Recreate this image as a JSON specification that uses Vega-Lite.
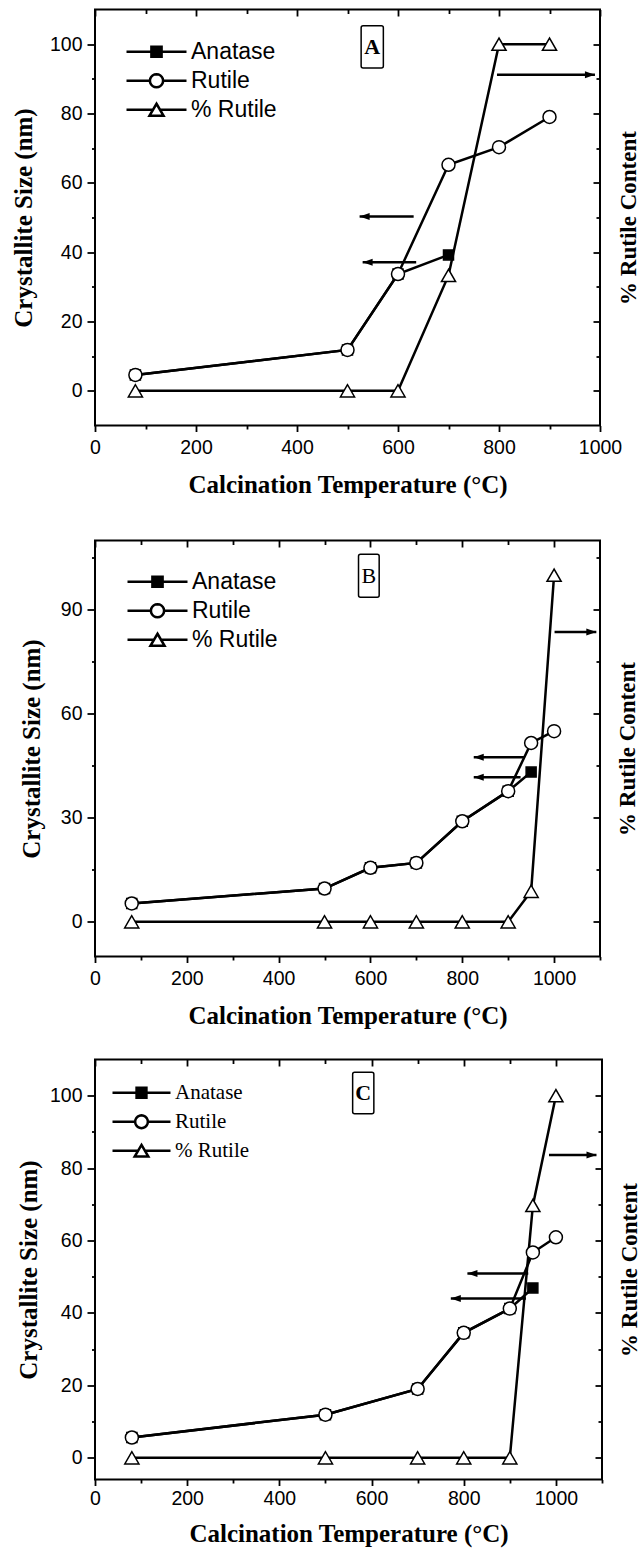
{
  "$schema": "https://vega.github.io/schema/vega-lite/v6.json",
  "background": "white",
  "padding": {"left": 10, "top": 7.5, "right": 0, "bottom": 0},
  "datasets": {
    "pts": [
      {"panel": "A", "series": "Anatase", "T": 80, "v": 4.6},
      {"panel": "A", "series": "Anatase", "T": 500, "v": 11.8},
      {"panel": "A", "series": "Anatase", "T": 600, "v": 33.7},
      {"panel": "A", "series": "Anatase", "T": 700, "v": 39.2},
      {"panel": "A", "series": "Rutile", "T": 80, "v": 4.6},
      {"panel": "A", "series": "Rutile", "T": 500, "v": 11.8},
      {"panel": "A", "series": "Rutile", "T": 600, "v": 33.7},
      {"panel": "A", "series": "Rutile", "T": 700, "v": 65.2},
      {"panel": "A", "series": "Rutile", "T": 800, "v": 70.3},
      {"panel": "A", "series": "Rutile", "T": 900, "v": 79.0},
      {"panel": "A", "series": "% Rutile", "T": 80, "v": 0},
      {"panel": "A", "series": "% Rutile", "T": 500, "v": 0},
      {"panel": "A", "series": "% Rutile", "T": 600, "v": 0},
      {"panel": "A", "series": "% Rutile", "T": 700, "v": 33.3},
      {"panel": "A", "series": "% Rutile", "T": 800, "v": 100},
      {"panel": "A", "series": "% Rutile", "T": 900, "v": 100},
      {"panel": "B", "series": "Anatase", "T": 80, "v": 5.3},
      {"panel": "B", "series": "Anatase", "T": 500, "v": 9.6},
      {"panel": "B", "series": "Anatase", "T": 600, "v": 15.6},
      {"panel": "B", "series": "Anatase", "T": 700, "v": 17.0},
      {"panel": "B", "series": "Anatase", "T": 800, "v": 29.0},
      {"panel": "B", "series": "Anatase", "T": 900, "v": 37.7},
      {"panel": "B", "series": "Anatase", "T": 950, "v": 43.2},
      {"panel": "B", "series": "Rutile", "T": 80, "v": 5.3},
      {"panel": "B", "series": "Rutile", "T": 500, "v": 9.6},
      {"panel": "B", "series": "Rutile", "T": 600, "v": 15.6},
      {"panel": "B", "series": "Rutile", "T": 700, "v": 17.0},
      {"panel": "B", "series": "Rutile", "T": 800, "v": 29.0},
      {"panel": "B", "series": "Rutile", "T": 900, "v": 37.7},
      {"panel": "B", "series": "Rutile", "T": 950, "v": 51.6},
      {"panel": "B", "series": "Rutile", "T": 1000, "v": 55.0},
      {"panel": "B", "series": "% Rutile", "T": 80, "v": 0},
      {"panel": "B", "series": "% Rutile", "T": 500, "v": 0},
      {"panel": "B", "series": "% Rutile", "T": 600, "v": 0},
      {"panel": "B", "series": "% Rutile", "T": 700, "v": 0},
      {"panel": "B", "series": "% Rutile", "T": 800, "v": 0},
      {"panel": "B", "series": "% Rutile", "T": 900, "v": 0},
      {"panel": "B", "series": "% Rutile", "T": 950, "v": 8.8},
      {"panel": "B", "series": "% Rutile", "T": 1000, "v": 100},
      {"panel": "C", "series": "Anatase", "T": 80, "v": 5.6},
      {"panel": "C", "series": "Anatase", "T": 500, "v": 11.9},
      {"panel": "C", "series": "Anatase", "T": 700, "v": 19.0},
      {"panel": "C", "series": "Anatase", "T": 800, "v": 34.5},
      {"panel": "C", "series": "Anatase", "T": 900, "v": 41.2},
      {"panel": "C", "series": "Anatase", "T": 950, "v": 46.9},
      {"panel": "C", "series": "Rutile", "T": 80, "v": 5.6},
      {"panel": "C", "series": "Rutile", "T": 500, "v": 11.9},
      {"panel": "C", "series": "Rutile", "T": 700, "v": 19.0},
      {"panel": "C", "series": "Rutile", "T": 800, "v": 34.5},
      {"panel": "C", "series": "Rutile", "T": 900, "v": 41.2},
      {"panel": "C", "series": "Rutile", "T": 950, "v": 56.7},
      {"panel": "C", "series": "Rutile", "T": 1000, "v": 60.9},
      {"panel": "C", "series": "% Rutile", "T": 80, "v": 0},
      {"panel": "C", "series": "% Rutile", "T": 500, "v": 0},
      {"panel": "C", "series": "% Rutile", "T": 700, "v": 0},
      {"panel": "C", "series": "% Rutile", "T": 800, "v": 0},
      {"panel": "C", "series": "% Rutile", "T": 900, "v": 0},
      {"panel": "C", "series": "% Rutile", "T": 950, "v": 69.7},
      {"panel": "C", "series": "% Rutile", "T": 1000, "v": 100}
    ],
    "arrows": [
      {"panel": "A", "tail": 631, "tip": 524, "y": 50.3, "dir": "left"},
      {"panel": "A", "tail": 636, "tip": 530, "y": 37.1, "dir": "left"},
      {"panel": "A", "tail": 796, "tip": 990, "y": 91.2, "dir": "right"},
      {"panel": "B", "tail": 936, "tip": 825, "y": 47.5, "dir": "left"},
      {"panel": "B", "tail": 927, "tip": 825, "y": 41.7, "dir": "left"},
      {"panel": "B", "tail": 1001, "tip": 1092, "y": 83.6, "dir": "right"},
      {"panel": "C", "tail": 940, "tip": 808, "y": 50.9, "dir": "left"},
      {"panel": "C", "tail": 935, "tip": 772, "y": 44.0, "dir": "left"},
      {"panel": "C", "tail": 985, "tip": 1088, "y": 83.6, "dir": "right"}
    ],
    "boxes": [
      {"panel": "A", "label": "A", "x1": 527, "x2": 571, "y1": 93.1, "y2": 105.3, "cx": 549, "cy": 99.2},
      {"panel": "B", "label": "B", "x1": 574, "x2": 619, "y1": 93.6, "y2": 106, "cx": 596.5, "cy": 99.8},
      {"panel": "C", "label": "C", "x1": 559, "x2": 605, "y1": 95, "y2": 106.5, "cx": 582, "cy": 100.7}
    ],
    "none": []
  },
  "spacing": 40,
  "resolve": {"scale": {"x": "independent", "y": "independent", "shape": "independent", "fill": "independent", "stroke": "independent"}, "legend": {"shape": "independent", "fill": "independent", "stroke": "independent"}},
  "vconcat": [
    {
      "width": 505, "height": 416,
      "resolve": {"axis": {"x": "independent", "y": "independent"}},
      "layer": [
        {
          "data": {"name": "pts"},
          "transform": [{"filter": "datum.panel === 'A'"}],
          "mark": {"type": "line", "color": "black", "strokeWidth": 2.5},
          "encoding": {
            "x": {"field": "T", "type": "quantitative", "scale": {"domain": [0, 1000], "nice": false, "zero": false}, "axis": {"orient": "bottom", "values": [0, 200, 400, 600, 800, 1000], "format": "d", "tickSize": 6, "labelPadding": 7, "title": "Calcination Temperature (°C)", "titlePadding": 15}},
            "y": {"field": "v", "type": "quantitative", "scale": {"domain": [-10, 110], "nice": false, "zero": false}, "axis": {"orient": "left", "values": [0, 20, 40, 60, 80, 100], "tickSize": 8, "labelPadding": 5, "title": "Crystallite Size (nm)", "minExtent": 45, "maxExtent": 45, "titlePadding": 14}},
            "detail": {"field": "series", "type": "nominal"}
          }
        },
        {
          "data": {"name": "pts"},
          "transform": [{"filter": "datum.panel === 'A'"}],
          "mark": {"type": "point", "filled": true, "stroke": "black", "strokeWidth": 1.5, "opacity": 1},
          "encoding": {
            "x": {"field": "T", "type": "quantitative", "scale": {"domain": [0, 1000], "nice": false, "zero": false}, "axis": {"orient": "bottom", "values": [100, 300, 500, 700, 900], "tickSize": 3.5, "labels": false, "title": null}},
            "y": {"field": "v", "type": "quantitative", "scale": {"domain": [-10, 110], "nice": false, "zero": false}, "axis": {"orient": "left", "values": [10, 30, 50, 70, 90], "tickSize": 3.5, "labels": false, "title": null}},
            "shape": {"condition": [{"test": "datum.series === 'Anatase'", "value": "square"}, {"test": "datum.series === 'Rutile'", "value": "circle"}], "value": "triangle-up"},
            "fill": {"condition": {"test": "datum.series === 'Anatase'", "value": "black"}, "value": "white"},
            "size": {"condition": [{"test": "datum.series === 'Anatase'", "value": 100}, {"test": "datum.series === 'Rutile'", "value": 169}], "value": 200}
          }
        },
        {
          "data": {"name": "none"},
          "mark": {"type": "point", "filled": true, "strokeWidth": 2.5, "size": 3600, "opacity": 1},
          "encoding": {
            "x": {"field": "T", "type": "quantitative", "scale": {"domain": [0, 1000], "nice": false, "zero": false}, "axis": null},
            "y": {"field": "v", "type": "quantitative", "scale": {"domain": [-10, 110], "nice": false, "zero": false}, "axis": null},
            "shape": {"field": "series", "type": "nominal",
              "scale": {"domain": ["Anatase", "Rutile", "% Rutile"], "range": ["M-1,0L1,0M-0.17,-0.17L0.17,-0.17L0.17,0.17L-0.17,0.17Z", "M-1,0L-0.22,0M0.22,0L1,0M0.22,0L0.2092,0.068L0.178,0.1293L0.1293,0.178L0.068,0.2092L0,0.22L-0.068,0.2092L-0.1293,0.178L-0.178,0.1293L-0.2092,0.068L-0.22,0L-0.2092,-0.068L-0.178,-0.1293L-0.1293,-0.178L-0.068,-0.2092L0,-0.22L0.068,-0.2092L0.1293,-0.178L0.178,-0.1293L0.2092,-0.068Z", "M-1,0L-0.12,0M0.12,0L1,0M0,-0.2L0.235,0.2L-0.235,0.2Z"]},
              "legend": {"orient": "none", "legendX": 30, "legendY": 28, "title": null, "symbolSize": 3600, "symbolStrokeWidth": 2.5, "symbolStrokeColor": "black", "symbolOpacity": 1, "labelFont": "Liberation Sans", "labelFontSize": 23, "labelColor": "black", "labelOffset": 3, "clipHeight": 28.5, "rowPadding": 0, "padding": 0}},
            "fill": {"field": "series", "type": "nominal", "scale": {"domain": ["Anatase", "Rutile", "% Rutile"], "range": ["black", "white", "white"]},
              "legend": {"orient": "none", "legendX": 30, "legendY": 28, "title": null, "symbolSize": 3600, "symbolStrokeWidth": 2.5, "symbolStrokeColor": "black", "symbolOpacity": 1, "labelFont": "Liberation Sans", "labelFontSize": 23, "labelColor": "black", "labelOffset": 3, "clipHeight": 28.5, "rowPadding": 0, "padding": 0}},
            "stroke": {"field": "series", "type": "nominal", "scale": {"domain": ["Anatase", "Rutile", "% Rutile"], "range": ["black", "black", "black"]},
              "legend": {"orient": "none", "legendX": 30, "legendY": 28, "title": null, "symbolSize": 3600, "symbolStrokeWidth": 2.5, "symbolStrokeColor": "black", "symbolOpacity": 1, "labelFont": "Liberation Sans", "labelFontSize": 23, "labelColor": "black", "labelOffset": 3, "clipHeight": 28.5, "rowPadding": 0, "padding": 0}}
          }
        },
        {
          "data": {"name": "arrows"},
          "transform": [{"filter": "datum.panel === 'A'"}],
          "mark": {"type": "rule", "color": "black", "strokeWidth": 2.5},
          "encoding": {
            "x": {"field": "tail", "type": "quantitative", "scale": {"domain": [0, 1000], "nice": false, "zero": false}, "axis": {"orient": "top", "values": [0, 200, 400, 600, 800, 1000], "tickSize": -6.5, "labels": false, "title": null}},
            "x2": {"field": "tip"},
            "y": {"field": "y", "type": "quantitative", "scale": {"domain": [-10, 110], "nice": false, "zero": false}, "axis": {"orient": "right", "values": [0, 20, 40, 60, 80, 100], "tickSize": -7, "labels": false, "title": "% Rutile Content", "titleAngle": 270, "titleBaseline": "top", "titleFontSize": 23, "minExtent": 0, "maxExtent": 0, "titlePadding": 17}}
          }
        },
        {
          "data": {"name": "arrows"},
          "transform": [{"filter": "datum.panel === 'A' && datum.dir === 'left'"}],
          "mark": {"type": "point", "shape": "M0,0L4,-1.4L4,1.4Z", "filled": true, "color": "black", "size": 25, "opacity": 1},
          "encoding": {
            "x": {"field": "tip", "type": "quantitative", "scale": {"domain": [0, 1000], "nice": false, "zero": false}, "axis": {"orient": "top", "values": [100, 300, 500, 700, 900], "tickSize": -4, "labels": false, "title": null}},
            "y": {"field": "y", "type": "quantitative", "scale": {"domain": [-10, 110], "nice": false, "zero": false}, "axis": {"orient": "right", "values": [10, 30, 50, 70, 90], "tickSize": -4, "labels": false, "title": null}}
          }
        },
        {
          "data": {"name": "arrows"},
          "transform": [{"filter": "datum.panel === 'A' && datum.dir === 'right'"}],
          "mark": {"type": "point", "shape": "M0,0L-4,-1.4L-4,1.4Z", "filled": true, "color": "black", "size": 25, "opacity": 1},
          "encoding": {
            "x": {"field": "tip", "type": "quantitative", "scale": {"domain": [0, 1000], "nice": false, "zero": false}, "axis": null},
            "y": {"field": "y", "type": "quantitative", "scale": {"domain": [-10, 110], "nice": false, "zero": false}, "axis": null}
          }
        },
        {
          "data": {"name": "boxes"},
          "transform": [{"filter": "datum.panel === 'A'"}],
          "mark": {"type": "rect", "fill": "white", "stroke": "black", "strokeWidth": 1.5, "cornerRadius": 2},
          "encoding": {
            "x": {"field": "x1", "type": "quantitative", "scale": {"domain": [0, 1000], "nice": false, "zero": false}, "axis": null},
            "x2": {"field": "x2"},
            "y": {"field": "y1", "type": "quantitative", "scale": {"domain": [-10, 110], "nice": false, "zero": false}, "axis": null},
            "y2": {"field": "y2"}
          }
        },
        {
          "data": {"name": "boxes"},
          "transform": [{"filter": "datum.panel === 'A'"}],
          "mark": {"type": "text", "font": "Liberation Serif", "fontWeight": "bold", "fontSize": 22, "align": "center", "baseline": "middle", "color": "black"},
          "encoding": {
            "x": {"field": "cx", "type": "quantitative", "scale": {"domain": [0, 1000], "nice": false, "zero": false}, "axis": null},
            "y": {"field": "cy", "type": "quantitative", "scale": {"domain": [-10, 110], "nice": false, "zero": false}, "axis": null},
            "text": {"field": "label"}
          }
        }
      ]
    },
    {
      "spacing": 28,
      "resolve": {"scale": {"x": "independent", "y": "independent", "shape": "independent", "fill": "independent", "stroke": "independent"}, "legend": {"shape": "independent", "fill": "independent", "stroke": "independent"}},
      "vconcat": [
        {
          "width": 505, "height": 416,
          "resolve": {"axis": {"x": "independent", "y": "independent"}},
          "layer": [
            {
              "data": {"name": "pts"},
              "transform": [{"filter": "datum.panel === 'B'"}],
              "mark": {"type": "line", "color": "black", "strokeWidth": 2.5},
              "encoding": {
                "x": {"field": "T", "type": "quantitative", "scale": {"domain": [0, 1100], "nice": false, "zero": false}, "axis": {"orient": "bottom", "values": [0, 200, 400, 600, 800, 1000], "format": "d", "tickSize": 6, "labelPadding": 7, "title": "Calcination Temperature (°C)", "titlePadding": 15}},
                "y": {"field": "v", "type": "quantitative", "scale": {"domain": [-10, 110], "nice": false, "zero": false}, "axis": {"orient": "left", "values": [0, 30, 60, 90], "tickSize": 8, "labelPadding": 5, "title": "Crystallite Size (nm)", "minExtent": 45, "maxExtent": 45, "titlePadding": 6}},
                "detail": {"field": "series", "type": "nominal"}
              }
            },
            {
              "data": {"name": "pts"},
              "transform": [{"filter": "datum.panel === 'B'"}],
              "mark": {"type": "point", "filled": true, "stroke": "black", "strokeWidth": 1.5, "opacity": 1},
              "encoding": {
                "x": {"field": "T", "type": "quantitative", "scale": {"domain": [0, 1100], "nice": false, "zero": false}, "axis": {"orient": "bottom", "values": [100, 300, 500, 700, 900, 1100], "tickSize": 3.5, "labels": false, "title": null}},
                "y": {"field": "v", "type": "quantitative", "scale": {"domain": [-10, 110], "nice": false, "zero": false}, "axis": {"orient": "left", "values": [15, 45, 75, 105], "tickSize": 3.5, "labels": false, "title": null}},
                "shape": {"condition": [{"test": "datum.series === 'Anatase'", "value": "square"}, {"test": "datum.series === 'Rutile'", "value": "circle"}], "value": "triangle-up"},
                "fill": {"condition": {"test": "datum.series === 'Anatase'", "value": "black"}, "value": "white"},
                "size": {"condition": [{"test": "datum.series === 'Anatase'", "value": 100}, {"test": "datum.series === 'Rutile'", "value": 169}], "value": 200}
              }
            },
            {
              "data": {"name": "none"},
              "mark": {"type": "point", "filled": true, "strokeWidth": 2.5, "size": 3600, "opacity": 1},
              "encoding": {
                "x": {"field": "T", "type": "quantitative", "scale": {"domain": [0, 1100], "nice": false, "zero": false}, "axis": null},
                "y": {"field": "v", "type": "quantitative", "scale": {"domain": [-10, 110], "nice": false, "zero": false}, "axis": null},
                "shape": {"field": "series", "type": "nominal",
                  "scale": {"domain": ["Anatase", "Rutile", "% Rutile"], "range": ["M-1,0L1,0M-0.17,-0.17L0.17,-0.17L0.17,0.17L-0.17,0.17Z", "M-1,0L-0.22,0M0.22,0L1,0M0.22,0L0.2092,0.068L0.178,0.1293L0.1293,0.178L0.068,0.2092L0,0.22L-0.068,0.2092L-0.1293,0.178L-0.178,0.1293L-0.2092,0.068L-0.22,0L-0.2092,-0.068L-0.178,-0.1293L-0.1293,-0.178L-0.068,-0.2092L0,-0.22L0.068,-0.2092L0.1293,-0.178L0.178,-0.1293L0.2092,-0.068Z", "M-1,0L-0.12,0M0.12,0L1,0M0,-0.2L0.235,0.2L-0.235,0.2Z"]},
                  "legend": {"orient": "none", "legendX": 31, "legendY": 27, "title": null, "symbolSize": 3600, "symbolStrokeWidth": 2.5, "symbolStrokeColor": "black", "symbolOpacity": 1, "labelFont": "Liberation Sans", "labelFontSize": 23, "labelColor": "black", "labelOffset": 3, "clipHeight": 28.5, "rowPadding": 0, "padding": 0}},
                "fill": {"field": "series", "type": "nominal", "scale": {"domain": ["Anatase", "Rutile", "% Rutile"], "range": ["black", "white", "white"]},
                  "legend": {"orient": "none", "legendX": 31, "legendY": 27, "title": null, "symbolSize": 3600, "symbolStrokeWidth": 2.5, "symbolStrokeColor": "black", "symbolOpacity": 1, "labelFont": "Liberation Sans", "labelFontSize": 23, "labelColor": "black", "labelOffset": 3, "clipHeight": 28.5, "rowPadding": 0, "padding": 0}},
                "stroke": {"field": "series", "type": "nominal", "scale": {"domain": ["Anatase", "Rutile", "% Rutile"], "range": ["black", "black", "black"]},
                  "legend": {"orient": "none", "legendX": 31, "legendY": 27, "title": null, "symbolSize": 3600, "symbolStrokeWidth": 2.5, "symbolStrokeColor": "black", "symbolOpacity": 1, "labelFont": "Liberation Sans", "labelFontSize": 23, "labelColor": "black", "labelOffset": 3, "clipHeight": 28.5, "rowPadding": 0, "padding": 0}}
              }
            },
            {
              "data": {"name": "arrows"},
              "transform": [{"filter": "datum.panel === 'B'"}],
              "mark": {"type": "rule", "color": "black", "strokeWidth": 2.5},
              "encoding": {
                "x": {"field": "tail", "type": "quantitative", "scale": {"domain": [0, 1100], "nice": false, "zero": false}, "axis": {"orient": "top", "values": [0, 200, 400, 600, 800, 1000], "tickSize": -6.5, "labels": false, "title": null}},
                "x2": {"field": "tip"},
                "y": {"field": "y", "type": "quantitative", "scale": {"domain": [-10, 110], "nice": false, "zero": false}, "axis": {"orient": "right", "values": [0, 30, 60, 90], "tickSize": -7, "labels": false, "title": "% Rutile Content", "titleAngle": 270, "titleBaseline": "top", "titleFontSize": 23, "minExtent": 0, "maxExtent": 0, "titlePadding": 16}}
              }
            },
            {
              "data": {"name": "arrows"},
              "transform": [{"filter": "datum.panel === 'B' && datum.dir === 'left'"}],
              "mark": {"type": "point", "shape": "M0,0L4,-1.4L4,1.4Z", "filled": true, "color": "black", "size": 25, "opacity": 1},
              "encoding": {
                "x": {"field": "tip", "type": "quantitative", "scale": {"domain": [0, 1100], "nice": false, "zero": false}, "axis": {"orient": "top", "values": [100, 300, 500, 700, 900], "tickSize": -4, "labels": false, "title": null}},
                "y": {"field": "y", "type": "quantitative", "scale": {"domain": [-10, 110], "nice": false, "zero": false}, "axis": {"orient": "right", "values": [15, 45, 75, 105], "tickSize": -4, "labels": false, "title": null}}
              }
            },
            {
              "data": {"name": "arrows"},
              "transform": [{"filter": "datum.panel === 'B' && datum.dir === 'right'"}],
              "mark": {"type": "point", "shape": "M0,0L-4,-1.4L-4,1.4Z", "filled": true, "color": "black", "size": 25, "opacity": 1},
              "encoding": {
                "x": {"field": "tip", "type": "quantitative", "scale": {"domain": [0, 1100], "nice": false, "zero": false}, "axis": null},
                "y": {"field": "y", "type": "quantitative", "scale": {"domain": [-10, 110], "nice": false, "zero": false}, "axis": null}
              }
            },
            {
              "data": {"name": "boxes"},
              "transform": [{"filter": "datum.panel === 'B'"}],
              "mark": {"type": "rect", "fill": "white", "stroke": "black", "strokeWidth": 1.5, "cornerRadius": 2},
              "encoding": {
                "x": {"field": "x1", "type": "quantitative", "scale": {"domain": [0, 1100], "nice": false, "zero": false}, "axis": null},
                "x2": {"field": "x2"},
                "y": {"field": "y1", "type": "quantitative", "scale": {"domain": [-10, 110], "nice": false, "zero": false}, "axis": null},
                "y2": {"field": "y2"}
              }
            },
            {
              "data": {"name": "boxes"},
              "transform": [{"filter": "datum.panel === 'B'"}],
              "mark": {"type": "text", "font": "Liberation Serif", "fontWeight": "normal", "fontSize": 22, "align": "center", "baseline": "middle", "color": "black"},
              "encoding": {
                "x": {"field": "cx", "type": "quantitative", "scale": {"domain": [0, 1100], "nice": false, "zero": false}, "axis": null},
                "y": {"field": "cy", "type": "quantitative", "scale": {"domain": [-10, 110], "nice": false, "zero": false}, "axis": null},
                "text": {"field": "label"}
              }
            }
          ]
        },
        {
          "width": 507, "height": 420,
          "resolve": {"axis": {"x": "independent", "y": "independent"}},
          "layer": [
            {
              "data": {"name": "pts"},
              "transform": [{"filter": "datum.panel === 'C'"}],
              "mark": {"type": "line", "color": "black", "strokeWidth": 2.5},
              "encoding": {
                "x": {"field": "T", "type": "quantitative", "scale": {"domain": [0, 1100], "nice": false, "zero": false}, "axis": {"orient": "bottom", "values": [0, 200, 400, 600, 800, 1000], "format": "d", "tickSize": 6, "labelPadding": 4, "title": "Calcination Temperature (°C)", "titlePadding": 13}},
                "y": {"field": "v", "type": "quantitative", "scale": {"domain": [-6, 110], "nice": false, "zero": false}, "axis": {"orient": "left", "values": [0, 20, 40, 60, 80, 100], "tickSize": 8, "labelPadding": 5, "title": "Crystallite Size (nm)", "minExtent": 45, "maxExtent": 45, "titlePadding": 9}},
                "detail": {"field": "series", "type": "nominal"}
              }
            },
            {
              "data": {"name": "pts"},
              "transform": [{"filter": "datum.panel === 'C'"}],
              "mark": {"type": "point", "filled": true, "stroke": "black", "strokeWidth": 1.5, "opacity": 1},
              "encoding": {
                "x": {"field": "T", "type": "quantitative", "scale": {"domain": [0, 1100], "nice": false, "zero": false}, "axis": {"orient": "bottom", "values": [100, 300, 500, 700, 900, 1100], "tickSize": 3.5, "labels": false, "title": null}},
                "y": {"field": "v", "type": "quantitative", "scale": {"domain": [-6, 110], "nice": false, "zero": false}, "axis": {"orient": "left", "values": [10, 30, 50, 70, 90], "tickSize": 3.5, "labels": false, "title": null}},
                "shape": {"condition": [{"test": "datum.series === 'Anatase'", "value": "square"}, {"test": "datum.series === 'Rutile'", "value": "circle"}], "value": "triangle-up"},
                "fill": {"condition": {"test": "datum.series === 'Anatase'", "value": "black"}, "value": "white"},
                "size": {"condition": [{"test": "datum.series === 'Anatase'", "value": 100}, {"test": "datum.series === 'Rutile'", "value": 169}], "value": 200}
              }
            },
            {
              "data": {"name": "none"},
              "mark": {"type": "point", "filled": true, "strokeWidth": 2.5, "size": 3364, "opacity": 1},
              "encoding": {
                "x": {"field": "T", "type": "quantitative", "scale": {"domain": [0, 1100], "nice": false, "zero": false}, "axis": null},
                "y": {"field": "v", "type": "quantitative", "scale": {"domain": [-6, 110], "nice": false, "zero": false}, "axis": null},
                "shape": {"field": "series", "type": "nominal",
                  "scale": {"domain": ["Anatase", "Rutile", "% Rutile"], "range": ["M-1,0L1,0M-0.17,-0.17L0.17,-0.17L0.17,0.17L-0.17,0.17Z", "M-1,0L-0.22,0M0.22,0L1,0M0.22,0L0.2092,0.068L0.178,0.1293L0.1293,0.178L0.068,0.2092L0,0.22L-0.068,0.2092L-0.1293,0.178L-0.178,0.1293L-0.2092,0.068L-0.22,0L-0.2092,-0.068L-0.178,-0.1293L-0.1293,-0.178L-0.068,-0.2092L0,-0.22L0.068,-0.2092L0.1293,-0.178L0.178,-0.1293L0.2092,-0.068Z", "M-1,0L-0.12,0M0.12,0L1,0M0,-0.2L0.235,0.2L-0.235,0.2Z"]},
                  "legend": {"orient": "none", "legendX": 16, "legendY": 19, "title": null, "symbolSize": 3364, "symbolStrokeWidth": 2.5, "symbolStrokeColor": "black", "symbolOpacity": 1, "labelFont": "Liberation Serif", "labelFontSize": 21, "labelColor": "black", "labelOffset": 3, "clipHeight": 28.5, "rowPadding": 0, "padding": 0}},
                "fill": {"field": "series", "type": "nominal", "scale": {"domain": ["Anatase", "Rutile", "% Rutile"], "range": ["black", "white", "white"]},
                  "legend": {"orient": "none", "legendX": 16, "legendY": 19, "title": null, "symbolSize": 3364, "symbolStrokeWidth": 2.5, "symbolStrokeColor": "black", "symbolOpacity": 1, "labelFont": "Liberation Serif", "labelFontSize": 21, "labelColor": "black", "labelOffset": 3, "clipHeight": 28.5, "rowPadding": 0, "padding": 0}},
                "stroke": {"field": "series", "type": "nominal", "scale": {"domain": ["Anatase", "Rutile", "% Rutile"], "range": ["black", "black", "black"]},
                  "legend": {"orient": "none", "legendX": 16, "legendY": 19, "title": null, "symbolSize": 3364, "symbolStrokeWidth": 2.5, "symbolStrokeColor": "black", "symbolOpacity": 1, "labelFont": "Liberation Serif", "labelFontSize": 21, "labelColor": "black", "labelOffset": 3, "clipHeight": 28.5, "rowPadding": 0, "padding": 0}}
              }
            },
            {
              "data": {"name": "arrows"},
              "transform": [{"filter": "datum.panel === 'C'"}],
              "mark": {"type": "rule", "color": "black", "strokeWidth": 2.5},
              "encoding": {
                "x": {"field": "tail", "type": "quantitative", "scale": {"domain": [0, 1100], "nice": false, "zero": false}, "axis": {"orient": "top", "values": [0, 200, 400, 600, 800, 1000], "tickSize": -6.5, "labels": false, "title": null}},
                "x2": {"field": "tip"},
                "y": {"field": "y", "type": "quantitative", "scale": {"domain": [-6, 110], "nice": false, "zero": false}, "axis": {"orient": "right", "values": [0, 20, 40, 60, 80, 100], "tickSize": -7, "labels": false, "title": "% Rutile Content", "titleAngle": 270, "titleBaseline": "top", "titleFontSize": 23, "minExtent": 0, "maxExtent": 0, "titlePadding": 16}}
              }
            },
            {
              "data": {"name": "arrows"},
              "transform": [{"filter": "datum.panel === 'C' && datum.dir === 'left'"}],
              "mark": {"type": "point", "shape": "M0,0L4,-1.4L4,1.4Z", "filled": true, "color": "black", "size": 25, "opacity": 1},
              "encoding": {
                "x": {"field": "tip", "type": "quantitative", "scale": {"domain": [0, 1100], "nice": false, "zero": false}, "axis": {"orient": "top", "values": [100, 300, 500, 700, 900], "tickSize": -4, "labels": false, "title": null}},
                "y": {"field": "y", "type": "quantitative", "scale": {"domain": [-6, 110], "nice": false, "zero": false}, "axis": {"orient": "right", "values": [10, 30, 50, 70, 90], "tickSize": -4, "labels": false, "title": null}}
              }
            },
            {
              "data": {"name": "arrows"},
              "transform": [{"filter": "datum.panel === 'C' && datum.dir === 'right'"}],
              "mark": {"type": "point", "shape": "M0,0L-4,-1.4L-4,1.4Z", "filled": true, "color": "black", "size": 25, "opacity": 1},
              "encoding": {
                "x": {"field": "tip", "type": "quantitative", "scale": {"domain": [0, 1100], "nice": false, "zero": false}, "axis": null},
                "y": {"field": "y", "type": "quantitative", "scale": {"domain": [-6, 110], "nice": false, "zero": false}, "axis": null}
              }
            },
            {
              "data": {"name": "boxes"},
              "transform": [{"filter": "datum.panel === 'C'"}],
              "mark": {"type": "rect", "fill": "white", "stroke": "black", "strokeWidth": 1.5, "cornerRadius": 2},
              "encoding": {
                "x": {"field": "x1", "type": "quantitative", "scale": {"domain": [0, 1100], "nice": false, "zero": false}, "axis": null},
                "x2": {"field": "x2"},
                "y": {"field": "y1", "type": "quantitative", "scale": {"domain": [-6, 110], "nice": false, "zero": false}, "axis": null},
                "y2": {"field": "y2"}
              }
            },
            {
              "data": {"name": "boxes"},
              "transform": [{"filter": "datum.panel === 'C'"}],
              "mark": {"type": "text", "font": "Liberation Serif", "fontWeight": "bold", "fontSize": 22, "align": "center", "baseline": "middle", "color": "black"},
              "encoding": {
                "x": {"field": "cx", "type": "quantitative", "scale": {"domain": [0, 1100], "nice": false, "zero": false}, "axis": null},
                "y": {"field": "cy", "type": "quantitative", "scale": {"domain": [-6, 110], "nice": false, "zero": false}, "axis": null},
                "text": {"field": "label"}
              }
            }
          ]
        }
      ]
    }
  ],
  "config": {
    "view": {"stroke": "black", "strokeWidth": 2},
    "axis": {"domain": false, "grid": false, "tickColor": "black", "tickWidth": 1.8, "labelColor": "black", "labelFont": "Liberation Sans", "labelFontSize": 19.5, "labelFlush": false, "labelOverlap": false, "titleFont": "Liberation Serif", "titleFontWeight": "bold", "titleFontSize": 25, "titleColor": "black"}
  }
}
